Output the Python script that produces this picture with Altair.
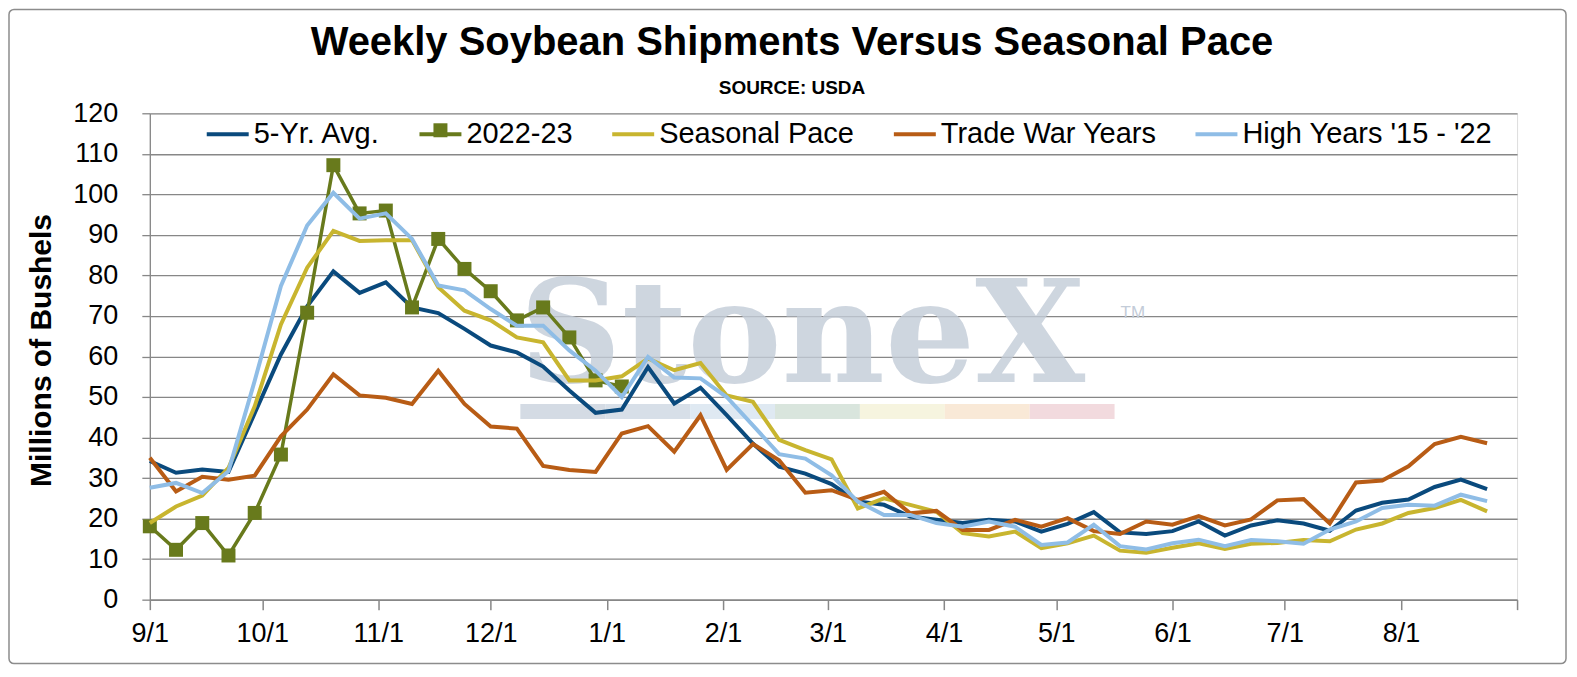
import altair as alt
import pandas as pd

# ---------------- data ----------------
SERIES = ["5-Yr. Avg.", "2022-23", "Seasonal Pace", "Trade War Years", "High Years '15 - '22"]
COLORS = ["#0a4a7d", "#687a1c", "#c8b52f", "#b85c15", "#8fbde6"]

week_dates = pd.date_range("2022-09-01", periods=52, freq="7D").strftime("%Y-%m-%dT00:00:00").tolist()

five_yr = [34.2, 31.3, 32.1, 31.5, 46.0, 60.5, 72.4, 81.0, 75.7, 78.3,
           72.1, 70.7, 66.8, 62.7, 61.0, 57.5, 51.6, 46.1, 46.9, 57.4,
           48.4, 52.3, 45.5, 38.5, 32.8, 31.1, 28.5, 24.2, 23.4, 20.5,
           19.7, 18.9, 19.7, 19.3, 16.8, 18.7, 21.6, 16.6, 16.2, 16.9,
           19.3, 15.8, 18.3, 19.6, 18.8, 17.0, 22.0, 23.9, 24.7, 27.8,
           29.6, 27.3]

crop_2022_23 = [18.1, 12.3, 18.9, 10.9, 21.4, 35.8, 70.8, 107.2, 95.3, 96.0,
                72.1, 89.0, 81.6, 76.1, 68.9, 72.1, 64.7, 54.1, 52.6]

seasonal_pace = [18.9, 23.0, 25.7, 32.5, 47.7, 67.9, 81.9, 91.0, 88.5, 88.7,
                 88.7, 77.1, 71.3, 68.9, 64.7, 63.5, 54.1, 54.1, 55.1, 59.5,
                 56.6, 58.4, 50.4, 48.8, 39.4, 36.9, 34.6, 22.5, 25.0, 23.4,
                 21.7, 16.4, 15.6, 16.8, 12.7, 13.9, 15.8, 12.1, 11.6, 12.8,
                 13.9, 12.5, 13.8, 14.0, 14.7, 14.4, 17.3, 18.8, 21.4, 22.6,
                 24.6, 21.8]

trade_war = [35.0, 26.7, 30.3, 29.6, 30.6, 40.3, 46.9, 55.6, 50.4, 49.8,
             48.3, 56.5, 48.3, 42.7, 42.2, 33.0, 32.0, 31.5, 41.0, 42.8,
             36.5, 45.5, 32.0, 38.4, 34.4, 26.4, 27.0, 24.6, 26.6, 21.3,
             21.9, 17.2, 17.2, 19.7, 18.0, 20.1, 16.9, 16.2, 19.3, 18.5,
             20.6, 18.3, 19.8, 24.5, 24.8, 18.8, 28.9, 29.4, 32.9, 38.4,
             40.2, 38.6]

high_years = [27.6, 28.8, 26.3, 31.7, 54.0, 77.4, 92.3, 100.4, 94.0, 95.3,
              89.0, 77.5, 76.3, 71.7, 67.6, 67.6, 61.5, 56.5, 50.0, 59.9,
              54.8, 54.6, 50.0, 43.0, 35.9, 34.8, 30.7, 24.2, 20.9, 20.9,
              18.9, 18.0, 19.3, 18.0, 13.5, 14.1, 18.5, 13.2, 12.4, 13.9,
              14.8, 13.2, 14.7, 14.4, 13.8, 17.3, 19.3, 22.6, 23.4, 23.2,
              25.9, 24.3]

month_ticks = ["2022-09-01", "2022-10-01", "2022-11-01", "2022-12-01", "2023-01-01",
               "2023-02-01", "2023-03-01", "2023-04-01", "2023-05-01", "2023-06-01",
               "2023-07-01", "2023-08-01", "2023-09-01"]
y_ticks = list(range(0, 121, 10))

TITLE = "Weekly Soybean Shipments Versus Seasonal Pace"
SUBTITLE = "SOURCE: USDA"
Y_TITLE = "Millions of Bushels"
WATERMARK = "StoneX"
BAR_COLORS = ["#cfd7e1", "#d3dbe5", "#dce7f1", "#d5e2d9", "#f5f3dc", "#f8e7d3", "#f1d6da"]

# ---------------- long table ----------------
values_by_series = [five_yr, crop_2022_23, seasonal_pace, trade_war, high_years]
rows = []
for name, vals in zip(SERIES, values_by_series):
    for d, v in zip(week_dates, vals):
        rows.append({"date": d, "value": v, "series": name})
df = pd.DataFrame(rows)

FONT = "Liberation Sans"
GRID = "#878787"


def dt(s):
    return alt.DateTime(year=int(s[:4]), month=int(s[5:7]), date=int(s[8:10]))


x_enc = alt.X(
    "date:T",
    scale=alt.Scale(domain=[dt(month_ticks[0]), dt(month_ticks[-1])]),
    axis=alt.Axis(
        values=[dt(s) for s in month_ticks],
        labelExpr="(month(datum.value) == 8 && year(datum.value) == 2023) ? '' : timeFormat(datum.value, '%-m/%-d')",
        title=None, grid=False, labelFontSize=27, labelFont=FONT, labelColor="black",
        labelPadding=11, tickSize=10, tickColor=GRID, tickWidth=1.5,
        domainColor=GRID, domainWidth=1.5, labelFlush=False, labelOverlap=False,
    ),
)
y_enc = alt.Y(
    "value:Q",
    scale=alt.Scale(domain=[0, 120], nice=False),
    axis=alt.Axis(
        values=y_ticks, title=Y_TITLE, titleFont=FONT, titleFontSize=30, titleFontWeight="bold",
        titleColor="black", titleX=-108, titleY=237, titleAngle=270, titleAlign="center",
        titleBaseline="middle",
        labelFontSize=27, labelFont=FONT, labelColor="black", labelPadding=24,
        tickSize=8, tickColor=GRID, tickWidth=1.3, domainColor=GRID, domainWidth=1.3,
        gridColor=GRID, gridWidth=1.3,
    ),
)

color_enc = alt.Color(
    "series:N",
    scale=alt.Scale(domain=SERIES, range=COLORS),
    legend=alt.Legend(
        title=None, orient="none", legendX=55, legendY=-2, direction="horizontal",
        symbolType="stroke", symbolSize=1764, symbolStrokeWidth=4,
        labelFontSize=29, labelFont=FONT, labelColor="black", labelLimit=500,
        columnPadding=31, labelOffset=3, padding=0,
    ),
)

base = alt.Chart(df).encode(x=x_enc, y=y_enc)

layers = []

# frame
layers.append(
    alt.Chart(pd.DataFrame({"k": [0]})).mark_rect(filled=False, color="#8c8c8c", strokeWidth=1.5, cornerRadius=5)
    .encode(x=alt.value(-141), x2=alt.value(1418), y=alt.value(-104), y2=alt.value(551))
)

# watermark bars
for i, c in enumerate(BAR_COLORS):
    layers.append(
        alt.Chart(pd.DataFrame({"k": [i]})).mark_rect(color=c, opacity=0.9)
        .encode(x=alt.value(371 + 85 * i), x2=alt.value(456 + 85 * i), y=alt.value(291), y2=alt.value(306))
    )

# watermark text
layers.append(
    alt.Chart(pd.DataFrame({"t": [WATERMARK]})).mark_text(
        font="DejaVu Serif", fontSize=142, fontWeight="bold", color="#c3ccd8", opacity=0.8,
        align="left", baseline="alphabetic")
    .encode(x=alt.value(370), y=alt.value(269), text="t:N")
)
layers.append(
    alt.Chart(pd.DataFrame({"t": ["TM"]})).mark_text(
        font=FONT, fontSize=17, color="#c3ccd8", align="left", baseline="alphabetic")
    .encode(x=alt.value(972), y=alt.value(205), text="t:N")
)

# titles
layers.append(
    alt.Chart(pd.DataFrame({"t": [TITLE]})).mark_text(
        font=FONT, fontSize=40, fontWeight="bold", color="black", align="center", baseline="middle")
    .encode(x=alt.value(643), y=alt.value(-70), text="t:N")
)
layers.append(
    alt.Chart(pd.DataFrame({"t": [SUBTITLE]})).mark_text(
        font=FONT, fontSize=19, fontWeight="bold", color="black", align="center", baseline="middle")
    .encode(x=alt.value(643), y=alt.value(-25), text="t:N")
)

# data lines in Excel order
for name in SERIES:
    sw = 3.5 if name == "2022-23" else 4
    layers.append(
        base.transform_filter(alt.datum.series == name)
        .mark_line(strokeWidth=sw, strokeJoin="miter")
        .encode(color=color_enc)
    )
    if name == "2022-23":
        layers.append(
            base.transform_filter(alt.datum.series == name)
            .mark_point(shape="square", filled=True, size=196, opacity=1)
            .encode(
                color=alt.value(COLORS[1]),
                shape=alt.Shape(
                    "series:N",
                    scale=alt.Scale(domain=["2022-23"], range=["square"]),
                    legend=alt.Legend(
                        title=None, orient="none", legendX=284, legendY=10, labelExpr="''",
                        symbolSize=196, symbolFillColor=COLORS[1], symbolStrokeColor=COLORS[1],
                        symbolStrokeWidth=0, padding=0, labelFontSize=1,
                    ),
                ),
            )
        )

chart = (
    alt.layer(*layers)
    .properties(
        width=1369, height=487,
        autosize=alt.AutoSizeParams(type="none"),
        padding={"left": 142, "top": 105, "right": 52, "bottom": 66},
    )
    .configure_view(stroke=None)
    .configure(background="white")
)

chart.save("out.html", embed_options={"renderer": "svg", "actions": False})
